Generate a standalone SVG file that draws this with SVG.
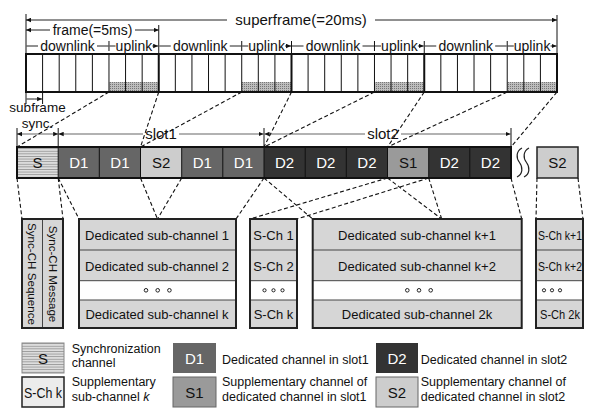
<svg xmlns="http://www.w3.org/2000/svg" width="595" height="408" viewBox="0 0 595 408">
<defs>
<style>
text{font-family:"Liberation Sans",Arial,sans-serif;fill:#111}
.h{font-size:14px;text-anchor:middle}
.c{font-size:15px;text-anchor:middle}
.w{fill:#fff}
.b{font-size:13px;text-anchor:middle}
.lg{font-size:12.5px}
.thin{stroke:#111;stroke-width:1;fill:none}
.thick{stroke:#111;stroke-width:2;fill:none}
.arr{stroke:#222;stroke-width:1;fill:none;marker-end:url(#ah)}
.sarr{stroke:#999;stroke-width:1.5;fill:none}
.dash{stroke:#111;stroke-width:1.1;stroke-dasharray:4 2.5;fill:none}
.row{fill:#d6d6d6}
.box{fill:none;stroke:#222;stroke-width:2}
.div{stroke:#444;stroke-width:1;fill:none}
.dot{fill:none;stroke:#222;stroke-width:1}
</style>
<marker id="ah" viewBox="0 0 6 6" refX="6" refY="3" markerWidth="5" markerHeight="5" orient="auto-start-reverse" markerUnits="userSpaceOnUse">
<path d="M0,0.3 L6,3 L0,5.7z" fill="#111"/>
</marker>
<pattern id="dots" width="2" height="2" patternUnits="userSpaceOnUse">
<rect width="2" height="2" fill="#bdbdbd"/><rect width="1" height="1" fill="#777"/>
</pattern>
<pattern id="str" width="4" height="2.6" patternUnits="userSpaceOnUse">
<rect width="4" height="2.6" fill="#dedede"/><rect width="4" height="0.9" fill="#9a9a9a"/>
</pattern>
</defs>

<!-- superframe / frame / downlink-uplink annotations -->
<g id="timing">
<text x="301" y="25" style="font-size:15px;text-anchor:middle">superframe(=20ms)</text>
<path class="arr" d="M227,20 H26"/>
<path class="arr" d="M375,20 H557"/>
<path class="thin" d="M26,14 V54 M557,15 V54 M158.75,25 V54"/>
<text x="92.5" y="34.5" class="h">frame(=5ms)</text>
<path class="arr" d="M50,30 H26"/>
<path class="arr" d="M135,30 H158.75"/>
<path class="thin" d="M108.97,41 V51 M241.72,41 V51 M374.47,41 V51 M507.22,41 V51 M291.5,41 V54 M424.25,41 V54"/>
<text x="67.5" y="50.5" class="h">downlink</text>
<text x="133.9" y="50.5" class="h">uplink</text>
<text x="200.25" y="50.5" class="h">downlink</text>
<text x="266.6" y="50.5" class="h">uplink</text>
<text x="333" y="50.5" class="h">downlink</text>
<text x="399.4" y="50.5" class="h">uplink</text>
<text x="465.7" y="50.5" class="h">downlink</text>
<text x="532.1" y="50.5" class="h">uplink</text>
<path class="arr" d="M38,46 H26.5 M97,46 H108.5 M115.5,46 H109.5 M152.4,46 H158.2"/>
<path class="arr" d="M170.75,46 H159.3 M229.75,46 H241.2 M248.3,46 H242.2 M285.1,46 H291"/>
<path class="arr" d="M303.5,46 H292 M362.5,46 H374 M381,46 H375 M417.9,46 H423.7"/>
<path class="arr" d="M436.25,46 H424.8 M495.2,46 H506.7 M513.8,46 H507.7 M550.6,46 H556.5"/>
</g>

<!-- top subframe strip -->
<g id="strip">
<rect x="108.97" y="82" width="49.78" height="10" fill="url(#dots)"/>
<rect x="241.72" y="82" width="49.78" height="10" fill="url(#dots)"/>
<rect x="374.47" y="82" width="49.78" height="10" fill="url(#dots)"/>
<rect x="507.22" y="82" width="49.78" height="10" fill="url(#dots)"/>
<path class="thin" d="M42.59,54V92 M59.19,54V92 M75.78,54V92 M92.38,54V92 M108.97,54V92 M125.56,54V92 M142.16,54V92 M175.34,54V92 M191.94,54V92 M208.53,54V92 M225.13,54V92 M241.72,54V92 M258.31,54V92 M274.91,54V92 M308.09,54V92 M324.69,54V92 M341.28,54V92 M357.88,54V92 M374.47,54V92 M391.06,54V92 M407.66,54V92 M440.84,54V92 M457.44,54V92 M474.03,54V92 M490.63,54V92 M507.22,54V92 M523.81,54V92 M540.41,54V92"/>
<path class="thick" d="M158.75,54V92 M291.5,54V92 M424.25,54V92"/>
<rect x="26" y="54" width="531" height="38" class="thick"/>
<path class="thin" d="M26,92 V104 M42.59,92 V104"/>
<path class="arr" d="M34.3,99 H26.5 M34.3,99 H42.1"/>
<text x="37.5" y="112" style="font-size:13.5px;text-anchor:middle">subframe</text>
<text x="37.5" y="128" style="font-size:13.5px;text-anchor:middle">sync.</text>
</g>

<!-- slot annotations -->
<g id="slots">
<path class="sarr" d="M17,134 H58.2" marker-start="url(#ah)" marker-end="url(#ah)"/>
<path class="sarr" d="M143,134 H58.7" marker-end="url(#ah)"/>
<path class="sarr" d="M179,134 H263.5" marker-end="url(#ah)"/>
<text x="161" y="139" class="c">slot1</text>
<path class="sarr" d="M365,134 H264.5" marker-end="url(#ah)"/>
<path class="sarr" d="M401,134 H510.5" marker-end="url(#ah)"/>
<text x="383" y="139" class="c">slot2</text>
<path class="thin" d="M17,128 V147 M58.2,128 V147 M264,128 V147 M511,128 V147"/>
</g>

<!-- middle channel row -->
<g id="row">
<rect x="17" y="147" width="41.2" height="31" fill="url(#str)"/>
<rect x="58.2" y="147" width="82.3" height="31" fill="#666"/>
<rect x="140.5" y="147" width="41.2" height="31" fill="#cdcdcd"/>
<rect x="181.7" y="147" width="82.3" height="31" fill="#666"/>
<rect x="264" y="147" width="123.5" height="31" fill="#333"/>
<rect x="387.5" y="147" width="41.2" height="31" fill="#9a9a9a"/>
<rect x="428.7" y="147" width="82.3" height="31" fill="#333"/>
<path class="thin" d="M58.2,147V178 M99.3,147V178 M140.5,147V178 M181.7,147V178 M222.8,147V178 M264,147V178 M305.2,147V178 M346.3,147V178 M387.5,147V178 M428.7,147V178 M469.8,147V178"/>
<rect x="17" y="147" width="494" height="31" class="thick"/>
<text x="37.6" y="167.5" class="c">S</text>
<text x="78.75" y="167.5" class="c w">D1</text>
<text x="119.9" y="167.5" class="c w">D1</text>
<text x="161.1" y="167.5" class="c">S2</text>
<text x="202.25" y="167.5" class="c w">D1</text>
<text x="243.4" y="167.5" class="c w">D1</text>
<text x="284.6" y="167.5" class="c w">D2</text>
<text x="325.75" y="167.5" class="c w">D2</text>
<text x="366.9" y="167.5" class="c w">D2</text>
<text x="408.1" y="167.5" class="c">S1</text>
<text x="449.25" y="167.5" class="c w">D2</text>
<text x="490.4" y="167.5" class="c w">D2</text>
<path d="M522,148 C516,151 516,158 519.5,162.5 C523,167 523,174 517,177 M529,148 C523,151 523,158 526.5,162.5 C530,167 530,174 524,177" stroke="#222" stroke-width="1.2" fill="none"/>
<rect x="537" y="147" width="41" height="31" fill="#cdcdcd" stroke="#222" stroke-width="1.5"/>
<text x="557.5" y="167.5" class="c">S2</text>
</g>

<!-- connectors -->
<g id="connectors">
<path class="dash" d="M108.97,92 L17,147 M158.75,92 L140.5,147 M241.72,92 L140.5,147 M291.5,92 L264,147 M374.47,92 L264,147 M424.25,92 L387.5,147 M507.22,92 L387.5,147 M557,92 L511,147"/>
<path class="dash" d="M17,178 L22,219 M58.2,178 L63,219 M58.2,178 L79,219 M140.5,178 L157.5,219 M181.7,178 L157.5,219 M264,178 L236,219 M264,178 L312.7,219 M387.5,178 L250,219 M428.7,178 L297,219 M387.5,178 L441.7,219 M428.7,178 L441.7,219 M511,178 L521.7,219 M537,178 L536,219 M578,178 L583,219"/>
</g>

<!-- bottom boxes -->
<g id="sync-box">
<rect x="22" y="219" width="41" height="109" class="row"/>
<path class="div" d="M42.5,219 V328"/>
<rect x="22" y="219" width="41" height="109" class="box"/>
<text transform="translate(28,274) rotate(90)" style="font-size:11.6px;text-anchor:middle">Sync-CH Sequence</text>
<text transform="translate(48.5,274) rotate(90)" style="font-size:11.6px;text-anchor:middle">Sync-CH Message</text>
</g>

<g id="dedicated-1">
<rect x="79" y="219" width="157" height="109" class="row"/>
<rect x="79" y="280.7" width="157" height="19.3" fill="#fff"/>
<path class="div" d="M79,250 H236 M79,280.7 H236 M79,300 H236"/>
<rect x="79" y="219" width="157" height="109" class="box"/>
<text x="157" y="240" class="b">Dedicated sub-channel 1</text>
<text x="157" y="270.5" class="b">Dedicated sub-channel 2</text>
<circle class="dot" cx="146" cy="290.3" r="1.8"/><circle class="dot" cx="157.7" cy="290.3" r="1.8"/><circle class="dot" cx="169.4" cy="290.3" r="1.8"/>
<text x="157" y="319" class="b">Dedicated sub-channel k</text>
</g>

<g id="supp-1">
<rect x="250" y="219" width="47" height="109" class="row"/>
<rect x="250" y="280.7" width="47" height="19.3" fill="#fff"/>
<path class="div" d="M250,250 H297 M250,280.7 H297 M250,300 H297"/>
<rect x="250" y="219" width="47" height="109" class="box"/>
<text x="273.5" y="240" class="b">S-Ch 1</text>
<text x="273.5" y="270.5" class="b">S-Ch 2</text>
<circle class="dot" cx="264.5" cy="290.3" r="1.6"/><circle class="dot" cx="273.5" cy="290.3" r="1.6"/><circle class="dot" cx="282.5" cy="290.3" r="1.6"/>
<text x="273.5" y="319" class="b">S-Ch k</text>
</g>

<g id="dedicated-2">
<rect x="312.7" y="219" width="209" height="109" class="row"/>
<rect x="312.7" y="280.7" width="209" height="19.3" fill="#fff"/>
<path class="div" d="M312.7,250 H521.7 M312.7,280.7 H521.7 M312.7,300 H521.7"/>
<rect x="312.7" y="219" width="209" height="109" class="box"/>
<text x="417" y="240" class="b">Dedicated sub-channel k+1</text>
<text x="417" y="270.5" class="b">Dedicated sub-channel k+2</text>
<circle class="dot" cx="407.3" cy="290.3" r="1.8"/><circle class="dot" cx="419" cy="290.3" r="1.8"/><circle class="dot" cx="430.7" cy="290.3" r="1.8"/>
<text x="417" y="319" class="b">Dedicated sub-channel 2k</text>
</g>

<g id="supp-2">
<rect x="536" y="219" width="47" height="109" class="row"/>
<rect x="536" y="280.7" width="47" height="19.3" fill="#fff"/>
<path class="div" d="M536,250 H583 M536,280.7 H583 M536,300 H583"/>
<rect x="536" y="219" width="47" height="109" class="box"/>
<text x="538" y="240" style="font-size:13px" textLength="44" lengthAdjust="spacingAndGlyphs">S-Ch k+1</text>
<text x="538" y="270.5" style="font-size:13px" textLength="44" lengthAdjust="spacingAndGlyphs">S-Ch k+2</text>
<circle class="dot" cx="544" cy="290.3" r="1.6"/><circle class="dot" cx="552" cy="290.3" r="1.6"/><circle class="dot" cx="560" cy="290.3" r="1.6"/>
<text x="540" y="319" style="font-size:13px" textLength="40" lengthAdjust="spacingAndGlyphs">S-Ch 2k</text>
</g>

<!-- legend -->
<g id="legend-s">
<rect x="22" y="343" width="42" height="30" fill="url(#str)" stroke="#888" stroke-width="1"/>
<text x="43" y="363.5" class="c">S</text>
<text x="71.7" y="353" class="lg">Synchronization</text>
<text x="71.7" y="367" class="lg">channel</text>
</g>
<g id="legend-sch">
<rect x="22" y="377" width="42" height="30" fill="#ececec" stroke="#222" stroke-width="1.5"/>
<text x="24" y="397.5" style="font-size:14px" textLength="38" lengthAdjust="spacingAndGlyphs">S-Ch k</text>
<text x="71.7" y="386" class="lg">Supplementary</text>
<text x="71.7" y="400.5" class="lg">sub-channel <tspan font-style="italic">k</tspan></text>
</g>
<g id="legend-d1">
<rect x="173" y="343" width="43" height="30" fill="#666"/>
<text x="194.5" y="363.5" class="c w">D1</text>
<text x="222" y="364" class="lg">Dedicated channel in slot1</text>
</g>
<g id="legend-s1">
<rect x="173" y="377" width="43" height="30" fill="#9a9a9a" stroke="#666" stroke-width="1"/>
<text x="194.5" y="397.5" class="c">S1</text>
<text x="222" y="386" class="lg">Supplementary channel of</text>
<text x="222" y="400.5" class="lg">dedicated channel in slot1</text>
</g>
<g id="legend-d2">
<rect x="376" y="343" width="42" height="30" fill="#333"/>
<text x="397" y="363.5" class="c w">D2</text>
<text x="420.7" y="364" class="lg">Dedicated channel in slot2</text>
</g>
<g id="legend-s2">
<rect x="376" y="377" width="42" height="30" fill="#cdcdcd" stroke="#666" stroke-width="1"/>
<text x="397" y="397.5" class="c">S2</text>
<text x="420.7" y="386" class="lg">Supplementary channel of</text>
<text x="420.7" y="400.5" class="lg">dedicated channel in slot2</text>
</g>
</svg>
